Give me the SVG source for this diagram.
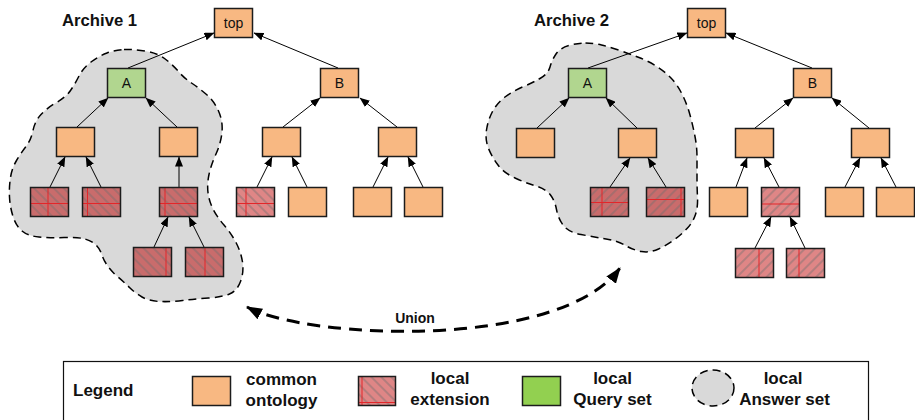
<svg xmlns="http://www.w3.org/2000/svg" width="915" height="420" viewBox="0 0 915 420">
  <defs>
    <style>
      .o { fill: #f8b882; stroke: #1c1c1c; stroke-width: 1.5; }
      .q { fill: #b1d68f; stroke: #1c1c1c; stroke-width: 1.5; }
      .xi { fill: #c96c6c; }
      .xo { fill: #df8686; }
      .frame { fill: none; stroke: #1c1c1c; stroke-width: 1.5; }
      .red { stroke: #e3262a; stroke-width: 1; fill: none; }
      .blob { fill: #d9d9d9; stroke: #000; stroke-width: 1.5; stroke-dasharray: 8 5; }
      .edge { stroke: #000; stroke-width: 1; fill: none; marker-end: url(#tip); }
      .lbl { font-family: "Liberation Sans", Arial, sans-serif; font-size: 14px; fill: #111; text-anchor: middle; }
      .title { font-family: "Liberation Sans", Arial, sans-serif; font-size: 16.7px; font-weight: bold; fill: #111; }
      .leg { font-family: "Liberation Sans", Arial, sans-serif; font-size: 17px; font-weight: bold; fill: #111; text-anchor: middle; }
    </style>
    <marker id="tip" markerUnits="userSpaceOnUse" markerWidth="10" markerHeight="8" refX="9.5" refY="4" orient="auto">
      <path d="M0,0 L10,4 L0,8 z" fill="#000"/>
    </marker>
    <marker id="bigtip" markerUnits="userSpaceOnUse" markerWidth="16" markerHeight="12" refX="15" refY="6" orient="auto-start-reverse">
      <path d="M0,0 L16,6 L0,12 z" fill="#000"/>
    </marker>
    <pattern id="hb" patternUnits="userSpaceOnUse" width="7" height="7" patternTransform="rotate(-45)">
      <line x1="3" y1="0" x2="3" y2="7" stroke="#6e6e6e" stroke-opacity="0.6" stroke-width="1.3"/>
    </pattern>
    <pattern id="hf" patternUnits="userSpaceOnUse" width="7" height="7" patternTransform="rotate(45)">
      <line x1="3" y1="0" x2="3" y2="7" stroke="#6e6e6e" stroke-opacity="0.6" stroke-width="1.3"/>
    </pattern>
  </defs>

  <rect x="0" y="0" width="915" height="420" fill="#fff"/>

  <!-- answer-set regions -->
  <g id="answer-set-1">
    <path class="blob" d="M124,49.5 Q133,49 145,51 Q157,53 164.5,58.5 Q172,64 178,71 Q184,78 191.5,83 Q199,88 206.5,94.5 Q214,101 218.5,111 Q223,121 222,132 Q221,143 216,154 Q211,165 209,174.5 Q207,184 208,192.5 Q209,201 213,209 Q217,217 224,225 Q231,233 236,242.5 Q241,252 242.5,262 Q244,272 240.5,281.5 Q237,291 229.5,294 Q222,297 208.5,298 Q195,299 182.5,300.5 Q170,302 159.5,301.5 Q149,301 142,297 Q135,293 129.5,287.5 Q124,282 118,277 Q112,272 108,266.5 Q104,261 102,255 Q100,249 96,245 Q92,241 85,239 Q78,237 64,237.5 Q50,238 39,237 Q28,236 22,231 Q16,226 13,216.5 Q10,207 9.5,197 Q9,187 10.5,177.5 Q12,168 16.5,160.5 Q21,153 26,146.5 Q31,140 33,130.5 Q35,121 41,114.5 Q47,108 56.5,102.5 Q66,97 70.5,90.5 Q75,84 79,76 Q83,68 91,62 Q99,56 107,53 Q115,50 124,49.5 Z"/>
  </g>
  <g id="answer-set-2">
    <path class="blob" d="M585.5,43 Q593,43 601.5,45 Q610,47 620,50.5 Q630,54 639,57.5 Q648,61 656,66 Q664,71 670.5,77.5 Q677,84 682,94 Q687,104 690,115 Q693,126 695,136.5 Q697,147 697,157 Q697,167 697,177 Q697,187 697.5,197 Q698,207 695.5,214.5 Q693,222 687.5,228 Q682,234 674.5,239.5 Q667,245 658.5,249 Q650,253 641.5,251.5 Q633,250 625.5,245.5 Q618,241 606,239 Q594,237 581,234.5 Q568,232 563,225 Q558,218 556.5,209.5 Q555,201 550.5,195 Q546,189 536,186 Q526,183 515,178 Q504,173 498,165 Q492,157 488.5,148.5 Q485,140 486.5,130 Q488,120 492.5,111.5 Q497,103 505,97 Q513,91 522.5,87 Q532,83 540,78.5 Q548,74 550,67 Q552,60 556,54 Q560,48 569,45.5 Q578,43 585.5,43 Z"/>
  </g>

  <!-- connectors: child points to parent -->
  <g id="connectors">
    <line class="edge" x1="128" y1="68" x2="214" y2="33"/>
    <line class="edge" x1="338" y1="68" x2="254" y2="33"/>
    <line class="edge" x1="77" y1="127" x2="108" y2="98"/>
    <line class="edge" x1="177" y1="127" x2="146" y2="98"/>
    <line class="edge" x1="283" y1="127" x2="320" y2="98"/>
    <line class="edge" x1="397" y1="127" x2="360" y2="98"/>
    <line class="edge" x1="50" y1="187" x2="65" y2="157"/>
    <line class="edge" x1="101" y1="187" x2="86" y2="157"/>
    <line class="edge" x1="179" y1="187" x2="179" y2="157"/>
    <line class="edge" x1="257" y1="187" x2="272" y2="157"/>
    <line class="edge" x1="307" y1="187" x2="292" y2="157"/>
    <line class="edge" x1="373" y1="187" x2="388" y2="157"/>
    <line class="edge" x1="423" y1="187" x2="408" y2="157"/>
    <line class="edge" x1="154" y1="247" x2="168" y2="217"/>
    <line class="edge" x1="204" y1="247" x2="189" y2="217"/>

    <line class="edge" x1="588" y1="68" x2="687" y2="33"/>
    <line class="edge" x1="812" y1="68" x2="726" y2="33"/>
    <line class="edge" x1="537" y1="128" x2="569" y2="98"/>
    <line class="edge" x1="637" y1="128" x2="606" y2="98"/>
    <line class="edge" x1="755" y1="128" x2="793" y2="98"/>
    <line class="edge" x1="869" y1="128" x2="832" y2="98"/>
    <line class="edge" x1="610" y1="187" x2="630" y2="158"/>
    <line class="edge" x1="666" y1="187" x2="648" y2="158"/>
    <line class="edge" x1="736" y1="187" x2="747" y2="158"/>
    <line class="edge" x1="779" y1="187" x2="764" y2="158"/>
    <line class="edge" x1="845" y1="187" x2="860" y2="158"/>
    <line class="edge" x1="896" y1="187" x2="881" y2="158"/>
    <line class="edge" x1="755" y1="248" x2="771" y2="217"/>
    <line class="edge" x1="805" y1="248" x2="790" y2="217"/>

    <!-- union between the two answer sets -->
    <path d="M247,307 C310,340 560,350 620,268" fill="none" stroke="#000" stroke-width="3" stroke-dasharray="13 8" marker-start="url(#bigtip)" marker-end="url(#bigtip)"/>
    <text x="415" y="322.5" class="lbl" style="font-weight:bold">Union</text>
  </g>

  <!-- archive 1 -->
  <text class="title" x="62" y="26">Archive 1</text>
  <g id="a1-top"><rect class="o" x="214.5" y="8.5" width="38" height="29"/><text class="lbl" x="233.5" y="28">top</text></g>
  <g id="a1-A"><rect class="q" x="107.5" y="68.5" width="38" height="29"/><text class="lbl" x="126.5" y="88">A</text></g>
  <g id="a1-B"><rect class="o" x="320.5" y="68.5" width="38" height="29"/><text class="lbl" x="339.5" y="88">B</text></g>
  <g id="a1-A1"><rect class="o" x="56.5" y="127.5" width="38" height="29"/></g>
  <g id="a1-A2"><rect class="o" x="159.5" y="127.5" width="38" height="29"/></g>
  <g id="a1-B1"><rect class="o" x="262.5" y="127.5" width="38" height="29"/></g>
  <g id="a1-B2"><rect class="o" x="378.5" y="127.5" width="38" height="29"/></g>
  <g id="a1-x1">
    <rect class="xi" x="30.5" y="187.5" width="38" height="29"/>
    <rect fill="url(#hb)" x="30.5" y="187.5" width="38" height="29"/>
    <path class="red" d="M48,187.5 V216.5 M30.5,203.5 H68.5"/>
    <rect class="frame" x="30.5" y="187.5" width="38" height="29"/>
  </g>
  <g id="a1-x2">
    <rect class="xi" x="82.5" y="187.5" width="38" height="29"/>
    <rect fill="url(#hb)" x="82.5" y="187.5" width="38" height="29"/>
    <path class="red" d="M87.5,187.5 V216.5 M82.5,203.5 H120.5"/>
    <rect class="frame" x="82.5" y="187.5" width="38" height="29"/>
  </g>
  <g id="a1-x3">
    <rect class="xi" x="159.5" y="187.5" width="38" height="29"/>
    <rect fill="url(#hb)" x="159.5" y="187.5" width="38" height="29"/>
    <path class="red" d="M165,187.5 V216.5 M159.5,203.5 H197.5"/>
    <rect class="frame" x="159.5" y="187.5" width="38" height="29"/>
  </g>
  <g id="a1-x4">
    <rect class="xo" x="236.5" y="187.5" width="38" height="29"/>
    <rect fill="url(#hb)" x="236.5" y="187.5" width="38" height="29"/>
    <path class="red" d="M246,187.5 V216.5 M236.5,203.5 H274.5"/>
    <rect class="frame" x="236.5" y="187.5" width="38" height="29"/>
  </g>
  <g id="a1-B1b"><rect class="o" x="288.5" y="187.5" width="38" height="29"/></g>
  <g id="a1-B2a"><rect class="o" x="353.5" y="187.5" width="38" height="29"/></g>
  <g id="a1-B2b"><rect class="o" x="404.5" y="187.5" width="38" height="29"/></g>
  <g id="a1-x5">
    <rect class="xi" x="133.5" y="247.5" width="38" height="29"/>
    <rect fill="url(#hb)" x="133.5" y="247.5" width="38" height="29"/>
    <path class="red" d="M166,247.5 V276.5"/>
    <rect class="frame" x="133.5" y="247.5" width="38" height="29"/>
  </g>
  <g id="a1-x6">
    <rect class="xi" x="185.5" y="247.5" width="38" height="29"/>
    <rect fill="url(#hb)" x="185.5" y="247.5" width="38" height="29"/>
    <path class="red" d="M205,247.5 V276.5"/>
    <rect class="frame" x="185.5" y="247.5" width="38" height="29"/>
  </g>

  <!-- archive 2 -->
  <text class="title" x="534" y="26">Archive 2</text>
  <g id="a2-top"><rect class="o" x="687.5" y="8.5" width="38" height="29"/><text class="lbl" x="706.5" y="28">top</text></g>
  <g id="a2-A"><rect class="q" x="568.5" y="68.5" width="38" height="29"/><text class="lbl" x="587.5" y="88">A</text></g>
  <g id="a2-B"><rect class="o" x="793.5" y="68.5" width="38" height="29"/><text class="lbl" x="812.5" y="88">B</text></g>
  <g id="a2-A1"><rect class="o" x="516.5" y="128.5" width="38" height="29"/></g>
  <g id="a2-A2"><rect class="o" x="618.5" y="128.5" width="38" height="29"/></g>
  <g id="a2-B1"><rect class="o" x="735.5" y="128.5" width="38" height="29"/></g>
  <g id="a2-B2"><rect class="o" x="851.5" y="128.5" width="38" height="29"/></g>
  <g id="a2-x1">
    <rect class="xi" x="590.5" y="187.5" width="38" height="29"/>
    <rect fill="url(#hf)" x="590.5" y="187.5" width="38" height="29"/>
    <path class="red" d="M602,187.5 V216.5 M590.5,202.5 H628.5"/>
    <rect class="frame" x="590.5" y="187.5" width="38" height="29"/>
  </g>
  <g id="a2-x2">
    <rect class="xi" x="646.5" y="187.5" width="38" height="29"/>
    <rect fill="url(#hf)" x="646.5" y="187.5" width="38" height="29"/>
    <path class="red" d="M681,187.5 V216.5 M646.5,199.5 H684.5"/>
    <rect class="frame" x="646.5" y="187.5" width="38" height="29"/>
  </g>
  <g id="a2-B1a"><rect class="o" x="709.5" y="187.5" width="38" height="29"/></g>
  <g id="a2-x3">
    <rect class="xo" x="761.5" y="187.5" width="38" height="29"/>
    <rect fill="url(#hf)" x="761.5" y="187.5" width="38" height="29"/>
    <path class="red" d="M761.5,204 H799.5"/>
    <rect class="frame" x="761.5" y="187.5" width="38" height="29"/>
  </g>
  <g id="a2-B2a"><rect class="o" x="825.5" y="187.5" width="38" height="29"/></g>
  <g id="a2-B2b"><rect class="o" x="876.5" y="187.5" width="38" height="29"/></g>
  <g id="a2-x4">
    <rect class="xo" x="735.5" y="248.5" width="38" height="29"/>
    <rect fill="url(#hf)" x="735.5" y="248.5" width="38" height="29"/>
    <path class="red" d="M759,248.5 V277.5"/>
    <rect class="frame" x="735.5" y="248.5" width="38" height="29"/>
  </g>
  <g id="a2-x5">
    <rect class="xo" x="786.5" y="248.5" width="38" height="29"/>
    <rect fill="url(#hf)" x="786.5" y="248.5" width="38" height="29"/>
    <path class="red" d="M799,248.5 V277.5"/>
    <rect class="frame" x="786.5" y="248.5" width="38" height="29"/>
  </g>

  <!-- legend -->
  <g id="legend">
    <rect x="63.5" y="361.5" width="805" height="80" fill="#fff" stroke="#111" stroke-width="1.2"/>
    <text x="73" y="395.5" class="leg" style="text-anchor:start">Legend</text>
    <rect class="o" x="192.5" y="376.5" width="38" height="29"/>
    <text x="281.5" y="385" class="leg">common</text>
    <text x="281.5" y="406" class="leg">ontology</text>
    <rect class="xo" x="358.5" y="376.5" width="37" height="29"/>
    <rect fill="url(#hb)" x="358.5" y="376.5" width="37" height="29"/>
    <path class="red" d="M362,376.5 V405.5 M358.5,402.5 H395.5"/>
    <rect class="frame" x="358.5" y="376.5" width="37" height="29"/>
    <text x="450" y="384" class="leg">local</text>
    <text x="450" y="405" class="leg">extension</text>
    <rect x="522.5" y="376.5" width="38" height="29" fill="#92d050" stroke="#1c1c1c" stroke-width="1.5"/>
    <text x="612.5" y="384" class="leg">local</text>
    <text x="612.5" y="405" class="leg">Query set</text>
    <ellipse class="blob" cx="713" cy="388" rx="21" ry="18"/>
    <text x="783" y="384" class="leg">local</text>
    <text x="784.5" y="405" class="leg">Answer set</text>
  </g>
</svg>
